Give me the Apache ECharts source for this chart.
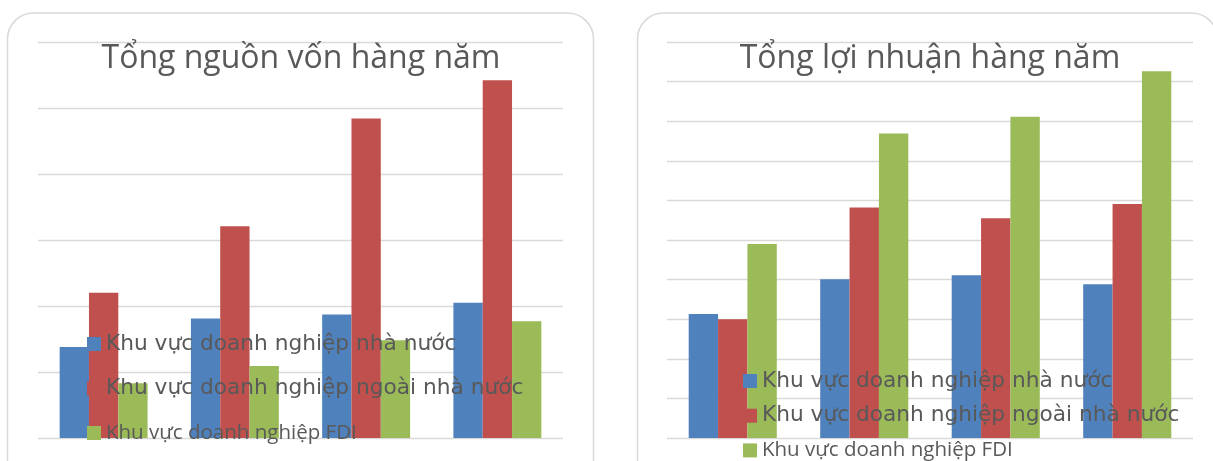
<!DOCTYPE html>
<html>
<head>
<meta charset="utf-8">
<script src="https://cdn.jsdelivr.net/npm/echarts@6/dist/echarts.min.js"></script>
<style>
  html, body { margin: 0; padding: 0; background: #ffffff; }
  #chart { width: 1213px; height: 461px; }
</style>
</head>
<body>
<div id="chart"></div>
<script>
// Years shown along each panel (no axis labels are drawn)
const categories = ['Năm 1', 'Năm 2', 'Năm 3', 'Năm 4'];

const seriesNames = [
  'Khu vực doanh nghiệp nhà nước',
  'Khu vực doanh nghiệp ngoài nhà nước',
  'Khu vực doanh nghiệp FDI'
];

// Panel 1: total capital per year (gridline units)
const capitalState   = [1.38, 1.81, 1.87, 2.05];
const capitalPrivate = [2.20, 3.21, 4.84, 5.42];
const capitalFDI     = [0.83, 1.09, 1.48, 1.77];

// Panel 2: total profit per year (gridline units)
const profitState   = [3.13, 4.01, 4.11, 3.88];
const profitPrivate = [3.00, 5.82, 5.55, 5.91];
const profitFDI     = [4.90, 7.69, 8.11, 9.26];

const titles = ['Tổng nguồn vốn hàng năm', 'Tổng lợi nhuận hàng năm'];

const colors = ['#4F81BD', '#C0504D', '#9BBB59'];
const gridColor = '#D9D9D9';
const textColor = '#595959';

const chart = echarts.init(document.getElementById('chart'), null, { renderer: 'canvas' });

function barSeries(name, data, idx, color) {
  return {
    name: name,
    type: 'bar',
    xAxisIndex: idx,
    yAxisIndex: idx,
    data: data,
    barGap: '0%',
    barCategoryGap: '33%',
    itemStyle: { color: color },
    emphasis: { disabled: true },
    animation: false
  };
}

function legendFor(left, top, gap) {
  return {
    orient: 'vertical',
    left: left,
    top: top,
    height: 140,
    itemWidth: 14,
    itemHeight: 14,
    itemGap: gap,
    icon: 'rect',
    selectedMode: false,
    padding: 0,
    textStyle: { fontFamily: 'DejaVu Sans', fontSize: 21.7, color: textColor, lineHeight: 22 },
    data: [
      seriesNames[0],
      seriesNames[1],
      { name: seriesNames[2], textStyle: { fontFamily: 'Open Sans', fontSize: 20.5, color: textColor } }
    ]
  };
}

function valueAxis(idx, max) {
  return {
    type: 'value',
    gridIndex: idx,
    min: 0,
    max: max,
    interval: 1,
    axisLabel: { show: false },
    axisLine: { show: false },
    axisTick: { show: false },
    splitLine: { lineStyle: { color: gridColor, width: 1.3 } }
  };
}

function categoryAxis(idx) {
  return {
    type: 'category',
    gridIndex: idx,
    data: categories,
    axisLabel: { show: false },
    axisLine: { show: false },
    axisTick: { show: false }
  };
}

const option = {
  backgroundColor: '#ffffff',
  animation: false,
  title: [
    {
      text: titles[0], left: 301, top: 43, textAlign: 'center', padding: 0,
      textStyle: { fontFamily: 'Open Sans', fontSize: 32, fontWeight: 'normal', color: textColor }
    },
    {
      text: titles[1], left: 930, top: 43, textAlign: 'center', padding: 0,
      textStyle: { fontFamily: 'Open Sans', fontSize: 32, fontWeight: 'normal', color: textColor }
    }
  ],
  graphic: [
    {
      type: 'rect', silent: true, z: -10,
      shape: { x: 7.5, y: 13, width: 586, height: 480, r: 26 },
      style: { fill: 'none', stroke: gridColor, lineWidth: 1.5 }
    },
    {
      type: 'rect', silent: true, z: -10,
      shape: { x: 637.5, y: 13, width: 580, height: 480, r: 26 },
      style: { fill: 'none', stroke: gridColor, lineWidth: 1.5 }
    }
  ],
  legend: [
    legendFor(87, 333, 22.5),
    legendFor(743, 370, 12.7)
  ],
  grid: [
    { left: 38, top: 42, width: 525, height: 396 },
    { left: 667, top: 42, width: 526, height: 396 }
  ],
  xAxis: [categoryAxis(0), categoryAxis(1)],
  yAxis: [valueAxis(0, 6), valueAxis(1, 10)],
  series: [
    barSeries(seriesNames[0], capitalState, 0, colors[0]),
    barSeries(seriesNames[1], capitalPrivate, 0, colors[1]),
    barSeries(seriesNames[2], capitalFDI, 0, colors[2]),
    barSeries(seriesNames[0], profitState, 1, colors[0]),
    barSeries(seriesNames[1], profitPrivate, 1, colors[1]),
    barSeries(seriesNames[2], profitFDI, 1, colors[2])
  ]
};

chart.setOption(option);
</script>
</body>
</html>
